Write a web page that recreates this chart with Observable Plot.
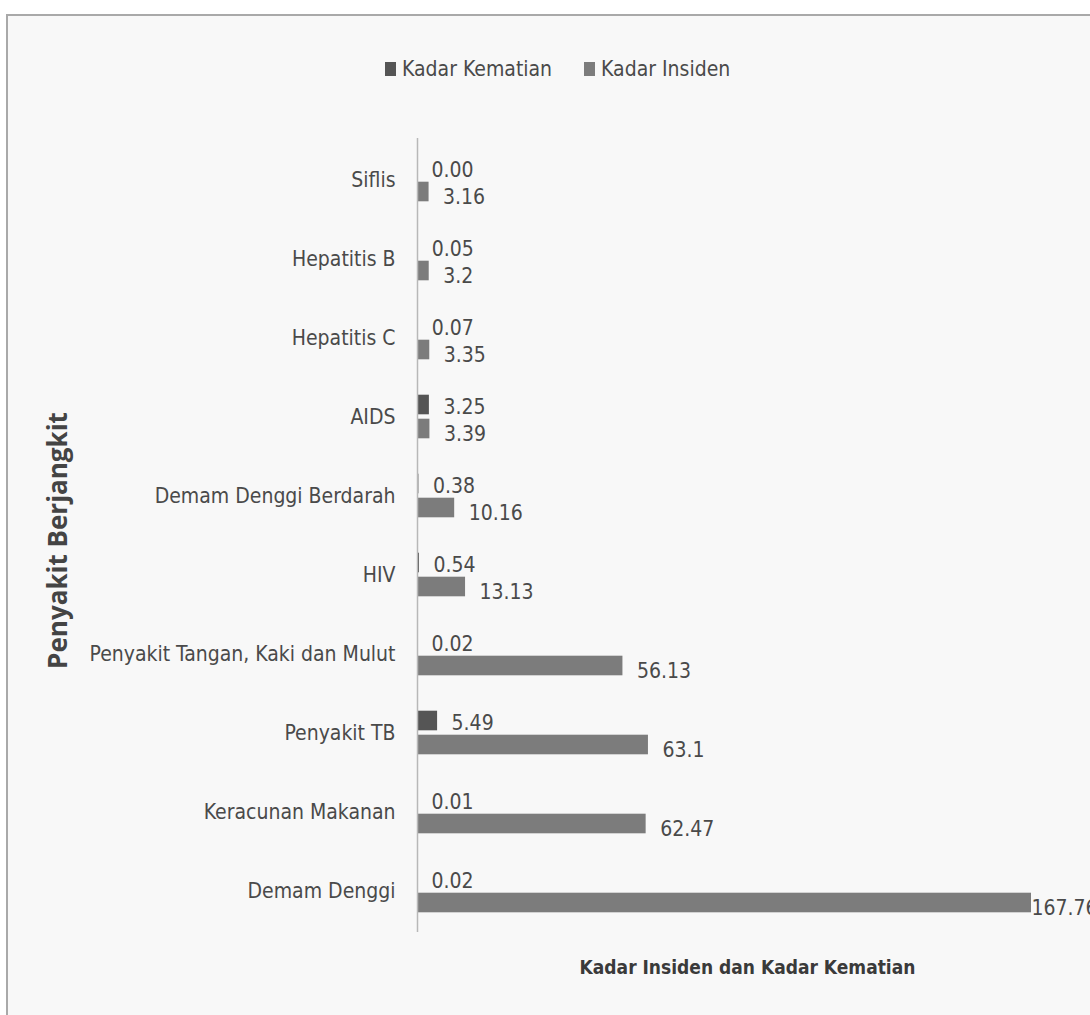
<!DOCTYPE html>
<html>
<head>
<meta charset="utf-8">
<script src="https://cdn.jsdelivr.net/npm/d3@7"></script>
<script src="https://cdn.jsdelivr.net/npm/@observablehq/plot@0.6"></script>
<style>
  html, body { margin: 0; padding: 0; background: #ffffff; width: 1090px; height: 1015px; overflow: hidden; }
  #frame { position: absolute; left: 6px; top: 14px; width: 1090px; height: 1010px;
           border-left: 2px solid #a9a9a9; border-top: 2px solid #a9a9a9; background: #f8f8f8; }
  #legend { position: absolute; top: 57px; left: 385px; display: flex; align-items: center;
            font-family: "DejaVu Sans Condensed", "Liberation Sans Narrow", sans-serif; font-size: 21px; color: #4a4a4a; }
  #legend .sw { display: inline-block; width: 11px; height: 14px; margin-right: 6px; }
  #legend .item { display: flex; align-items: center; margin-right: 32px; }
  #chart { position: absolute; left: 0; top: 100px; }
</style>
</head>
<body>
<div id="frame"></div>
<div id="legend"></div>
<div id="chart"></div>
<script>
const categories = [
  "Siflis", "Hepatitis B", "Hepatitis C", "AIDS", "Demam Denggi Berdarah", "HIV",
  "Penyakit Tangan, Kaki dan Mulut", "Penyakit TB", "Keracunan Makanan", "Demam Denggi"
];
const kematian = [0.00, 0.05, 0.07, 3.25, 0.38, 0.54, 0.02, 5.49, 0.01, 0.02];
const kematianLabels = ["0.00", "0.05", "0.07", "3.25", "0.38", "0.54", "0.02", "5.49", "0.01", "0.02"];
const insiden = [3.16, 3.2, 3.35, 3.39, 10.16, 13.13, 56.13, 63.1, 62.47, 167.76];
const insidenLabels = ["3.16", "3.2", "3.35", "3.39", "10.16", "13.13", "56.13", "63.1", "62.47", "167.76"];
const seriesNames = ["Kadar Kematian", "Kadar Insiden"];
const seriesColors = ["#555555", "#7c7c7c"];
const xTitle = "Kadar Insiden dan Kadar Kematian";
const yTitle = "Penyakit Berjangkit";

const kData = categories.map((c, i) => ({cat: c, value: kematian[i], label: kematianLabels[i]}));
const iData = categories.map((c, i) => ({cat: c, value: insiden[i], label: insidenLabels[i]}));
const maxVal = d3.max(insiden);

// legend
const legend = document.getElementById("legend");
seriesNames.forEach((n, i) => {
  const it = document.createElement("span");
  it.className = "item";
  it.innerHTML = `<span class="sw" style="background:${seriesColors[i]}"></span>${n}`;
  legend.appendChild(it);
});

const font = "'DejaVu Sans Condensed', 'Liberation Sans Narrow', sans-serif";
const chart = Plot.plot({
  width: 1090,
  height: 900,
  marginTop: 38,
  marginBottom: 68,
  marginLeft: 417,
  marginRight: 59,
  style: {fontFamily: font, fontSize: "21px", color: "#4a4a4a", background: "transparent", overflow: "visible"},
  x: {domain: [0, maxVal], axis: null},
  y: {type: "band", domain: categories, padding: 0, axis: null},
  marks: [
    Plot.barX(kData, {x: "value", y: "cat", fill: seriesColors[0], insetTop: 17.7, insetBottom: 41.7}),
    Plot.barX(iData, {x: "value", y: "cat", fill: seriesColors[1], insetTop: 41.7, insetBottom: 17.7}),
    Plot.ruleX([0], {stroke: "#b8b8b8", strokeWidth: 1.5}),
    Plot.axisY({tickSize: 0, tickPadding: 22, fontSize: 21, fill: "#4a4a4a", label: null}),
    Plot.text(kData, {x: "value", y: "cat", text: "label", textAnchor: "start", dx: 14, dy: -10, fontSize: 21, fill: "#4a4a4a"}),
    Plot.text(iData.filter(d => d.value < maxVal), {x: "value", y: "cat", text: "label", textAnchor: "start", dx: 14, dy: 17, fontSize: 21, fill: "#4a4a4a"}),
    Plot.text(iData.filter(d => d.value === maxVal), {x: "value", y: "cat", text: "label", textAnchor: "start", dx: 0, dy: 17, fontSize: 21, fill: "#4a4a4a"}),
    Plot.text([xTitle], {frameAnchor: "bottom", dx: 23, dy: 41, fontSize: 19, fontWeight: "bold", fill: "#3a3a3a"}),
    Plot.text([yTitle], {frameAnchor: "left", textAnchor: "middle", dx: -359, dy: 5, rotate: -90, fontFamily: "'Open Sans', sans-serif", fontSize: 26, fontWeight: "bold", letterSpacing: "1.8px", fill: "#444444"})
  ]
});
document.getElementById("chart").appendChild(chart);
</script>
</body>
</html>
